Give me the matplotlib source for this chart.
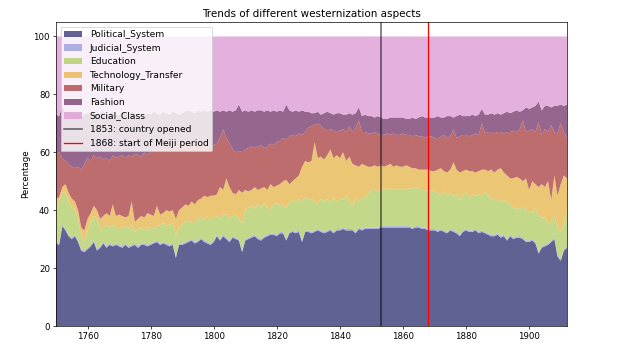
import numpy as np
import matplotlib
matplotlib.use("Agg")
import matplotlib.pyplot as plt

years = list(range(1750, 1913))

labels = ["Political_System", "Judicial_System", "Education", "Technology_Transfer",
          "Military", "Fashion", "Social_Class"]

political_system = [
    28.5, 28, 34.5, 33, 31, 30, 31, 29, 26, 25.5,
    26.5, 27.5, 29, 26, 27, 28.5, 27, 28, 27.5, 28,
    27.5, 27, 28, 27, 27.5, 28, 27, 28, 28, 27.5,
    28, 28.5, 29, 28, 28.5, 28, 27.5, 28, 23.5, 28,
    28, 28.5, 29, 29.5, 28.5, 29, 30, 29, 28.5, 28,
    29, 31, 29.5, 31, 30, 29, 30.5, 30, 29.5, 25.5,
    29.5, 30, 30.5, 31, 30, 29.5, 30.5, 31, 31.5, 31.5,
    31, 32, 32, 29.5, 32, 32.5, 32, 32.5, 29, 32.5,
    32.5, 32, 32.5, 33, 32.5, 32, 32.5, 33, 32, 33,
    33, 33.5, 33, 33, 33, 32, 33.5, 33, 33.5, 33.5,
    33.5, 33.5, 33.5, 34, 34, 34, 34, 34, 34, 34,
    34, 34, 34, 33.5, 34, 34, 33.5, 33.5, 33, 33,
    33, 32.5, 33, 32.5, 32, 33, 32.5, 32, 31, 32.5,
    33, 32.5, 32.5, 33, 32, 32.5, 32, 31.5, 31, 31,
    31.5, 30.5, 31, 29.5, 31, 30, 30.5, 30.5, 30, 29,
    29, 29.5, 28.5, 25, 27, 27.5, 28, 29, 30, 24,
    22.5, 26, 27]

judicial_system = [
    0.5, 0.5, 0.5, 0.5, 0.5, 0.5, 0.5, 0.5, 0.5, 0.5,
    0.5, 0.5, 0.5, 0.5, 0.5, 0.5, 0.5, 0.5, 0.5, 0.5,
    0.5, 0.5, 0.5, 0.5, 0.5, 0.5, 0.5, 0.5, 0.5, 0.5,
    0.5, 0.5, 0.5, 0.5, 0.5, 0.5, 0.5, 0.5, 0.5, 0.5,
    0.5, 0.5, 0.5, 0.5, 0.5, 0.5, 0.5, 0.5, 0.5, 0.5,
    0.5, 0.5, 0.5, 0.5, 0.5, 0.5, 0.5, 0.5, 0.5, 0.5,
    0.5, 0.5, 0.5, 0.5, 0.5, 0.5, 0.5, 0.5, 0.5, 0.5,
    0.5, 0.5, 0.5, 0.5, 0.5, 0.5, 0.5, 0.5, 0.5, 0.5,
    0.5, 0.5, 0.5, 0.5, 0.5, 0.5, 0.5, 0.5, 0.5, 0.5,
    0.5, 0.5, 0.5, 0.5, 0.5, 0.5, 0.5, 0.5, 0.5, 0.5,
    0.5, 0.5, 0.5, 0.5, 0.5, 0.5, 0.5, 0.5, 0.5, 0.5,
    0.5, 0.5, 0.5, 0.5, 0.5, 0.5, 0.5, 0.5, 0.5, 0.5,
    0.5, 0.5, 0.5, 0.5, 0.5, 0.5, 0.5, 0.5, 0.5, 0.5,
    0.5, 0.5, 0.5, 0.5, 0.5, 0.5, 0.5, 0.5, 0.5, 0.5,
    0.5, 0.5, 0.5, 0.5, 0.5, 0.5, 0.5, 0.5, 0.5, 0.5,
    0.5, 0.5, 0.5, 0.5, 0.5, 0.5, 0.5, 0.5, 0.5, 0.5,
    0.5, 0.5, 0.5]

education = [
    11, 14.5, 11, 12.5, 11.5, 10.5, 8.5, 7.5, 4.5, 3,
    6, 8, 8.5, 10.5, 6, 5, 7.5, 5.5, 7, 5.5,
    5.5, 6.5, 6, 6, 7, 4, 6, 5.5, 4.5, 6,
    5.5, 4.5, 5, 6.5, 6.5, 6, 7, 7, 7.5, 5.5,
    6.5, 7, 7, 5.5, 7, 7.5, 7, 7, 9, 8,
    8, 6.5, 7, 7, 8, 7.5, 7, 8, 7, 9.5,
    10, 10.5, 10.5, 9, 11.5, 11, 11.5, 9.5, 8, 10,
    11, 9, 9.5, 10.5, 10.5, 10.5, 10, 11, 13.5, 11.5,
    10.5, 11.5, 10, 8.5, 11, 10.5, 11, 9, 12, 9.5,
    10.5, 9.5, 11.5, 9.5, 7.5, 12, 9, 10.5, 10.5, 12,
    13, 13, 12.5, 12.5, 13, 12.5, 13, 12.5, 13, 12.5,
    13, 12.5, 13, 13.5, 13.5, 13, 13, 13, 13, 13.5,
    13, 13, 11.5, 13.5, 12.5, 12.5, 11.5, 13.5, 12, 12.5,
    12.5, 11, 12.5, 11.5, 13, 12, 14, 13, 12.5, 12,
    11.5, 12, 12, 13, 10.5, 10.5, 9.5, 9.5, 10.5, 10.5,
    10, 9, 12, 12.5, 10, 9.5, 6.5, 7, 7.5, 9.5,
    9.5, 8.5, 12]

technology_transfer = [
    4, 1.5, 2, 3, 3, 3, 3, 3, 3, 4,
    4, 3, 3.5, 3, 3.5, 4, 4, 4, 7, 4,
    5, 4, 3, 4.5, 8, 3.5, 3.5, 4, 4.5, 5,
    4.5, 4.5, 7, 3.5, 3.5, 5.5, 4.5, 4.5, 5.5, 6,
    6, 6, 5, 7.5, 6, 6.5, 6.5, 8.5, 6.5, 8.5,
    7.5, 7.5, 11, 8.5, 12.5, 11, 8, 7, 10, 10.5,
    7, 5.5, 5.5, 7.5, 5, 6.5, 5.5, 6, 9, 6,
    6, 7.5, 8, 10, 6, 6.5, 8.5, 8, 12, 12.5,
    13, 13, 20.5, 16, 14.5, 14.5, 15, 18.5, 13.5, 16,
    14, 16.5, 12, 15.5, 15, 11, 12, 12, 11, 9,
    8, 8.5, 8.5, 8.5, 7.5, 8.5, 8.5, 8, 8, 8,
    7.5, 8.5, 7.5, 7, 6.5, 6.5, 7, 7, 7.5, 6.5,
    7, 8, 9.5, 7, 8, 8, 12, 8, 9.5, 8,
    8, 9.5, 8, 8, 8, 9, 7.5, 8.5, 10, 9.5,
    10.5, 11.5, 9.5, 9, 9, 10, 11, 10.5, 9, 11,
    7.5, 11, 8, 10, 11.5, 10.5, 15, 7, 14, 11,
    16.5, 17, 11.5]

military = [
    15.5, 15.5, 10, 8, 10, 11, 11.5, 15, 20, 23,
    21, 18, 17.5, 18, 21.5, 19.5, 19, 19, 17, 20,
    20, 21, 20.5, 21, 15.5, 23.5, 22, 20.5, 22.5, 20,
    22, 23, 19, 23, 23, 21.5, 22.5, 21, 25.5, 22,
    22, 20.5, 21.5, 21, 21, 19, 19.5, 18, 19.5, 17,
    17.5, 17.5, 17, 21, 14, 15, 15, 14.5, 13.5, 14,
    14, 15, 15, 13.5, 15, 15, 13.5, 15, 14, 14.5,
    15, 15, 15, 14, 16.5, 16, 14.5, 14.5, 11, 10,
    12, 12, 6, 12, 10.5, 10.5, 8.5, 7, 9.5, 8,
    9.5, 8, 10, 10.5, 11, 13, 16, 11, 11.5, 11.5,
    11.5, 11.5, 11.5, 10.5, 11, 11, 10, 11.5, 10.5, 11,
    11.5, 10.5, 11, 11, 11.5, 11.5, 11.5, 11, 11.5, 12,
    11.5, 10.5, 11, 12.5, 12, 11.5, 11.5, 11, 12.5, 12.5,
    12, 12, 12.5, 13.5, 12.5, 16, 12.5, 13.5, 13, 13.5,
    13, 12.5, 13.5, 15, 16, 16.5, 15.5, 17, 21, 16,
    20.5, 18, 18, 22.5, 17, 20, 17, 26, 15, 21.5,
    21, 15, 14]

fashion = [
    13.5, 12.5, 18, 17, 17.5, 19, 18.5, 18.5, 18.5, 17,
    15.5, 16, 15, 15, 15, 17, 15, 16.5, 15, 15,
    14.5, 15, 15.5, 14, 15.5, 14, 14, 15, 12.5, 14.5,
    12.5, 13, 13, 11.5, 12, 12, 11, 13, 11, 11,
    10.5, 11.5, 11.5, 10, 10.5, 12, 10.5, 11.5, 10, 12.5,
    11.5, 11.5, 9, 6.5, 9, 11.5, 13, 14.5, 16, 14,
    13.5, 12.5, 12.5, 12.5, 12.5, 12, 12.5, 12.5, 11, 12,
    10.5, 10.5, 9, 12, 9, 8, 9, 7.5, 8.5, 7,
    5.5, 4.5, 4, 4, 4, 5.5, 6.5, 5.5, 5.5, 6.5,
    6, 5, 6, 4.5, 6, 5, 4.5, 5.5, 6, 6,
    6, 5, 6, 6, 5.5, 5, 6, 5.5, 6, 6,
    5.5, 5.5, 5.5, 6.5, 5.5, 6.5, 7, 7, 6.5, 6.5,
    7, 8, 6.5, 6, 7.5, 7, 4, 7.5, 7.5, 6.5,
    6.5, 7, 7, 6, 7, 5, 6.5, 6, 6.5, 6.5,
    6.5, 6, 7, 7, 6.5, 6.5, 7.5, 6, 3.5, 8.5,
    7.5, 7.5, 9, 7, 8.5, 8, 9, 6, 9, 9.5,
    6.5, 9, 11.5]

social_class = [
    27, 27.5, 24, 26, 26.5, 26, 27, 26.5, 27.5, 27,
    26.5, 27, 26, 27, 26.5, 25.5, 27, 26.5, 26, 27,
    27, 26, 26.5, 27, 26, 26.5, 27, 26.5, 27.5, 26.5,
    27, 26, 26.5, 27, 26, 26.5, 27, 26, 26.5, 27,
    26.5, 26, 25.5, 26, 26.5, 25.5, 26, 25.5, 26, 25.5,
    26, 25.5, 26, 25.5, 26, 25.5, 26, 25.5, 23.5, 26,
    25.5, 26, 25.5, 26, 25.5, 25.5, 26, 25.5, 26, 25.5,
    26, 25.5, 26, 23.5, 25.5, 26, 25.5, 26, 25.5, 26,
    26, 26.5, 26.5, 26, 27, 26.5, 26, 26.5, 27, 26.5,
    26.5, 27, 27, 26.5, 27, 26.5, 24.5, 27.5, 27, 27.5,
    27.5, 28, 27.5, 28, 28.5, 28.5, 28, 28, 28, 28,
    28, 28.5, 28.5, 28, 28.5, 28, 27.5, 28, 28, 28,
    28, 27.5, 28, 28, 27.5, 27.5, 28, 27.5, 27, 27.5,
    27.5, 27.5, 27, 27.5, 27, 25, 27, 27, 26.5, 27,
    26.5, 27, 26.5, 26, 26.5, 26, 25.5, 26, 25.5, 24.5,
    25, 24.5, 24, 22.5, 25.5, 24, 24, 24.5, 24, 24,
    23.5, 24, 23.5]

events = [1853, 1868]
event_labels = ["1853: country opened", "1868: start of Meiji period"]

series = [political_system, judicial_system, education, technology_transfer,
          military, fashion, social_class]
for s in series:
    assert len(s) == len(years), len(s)

colors = plt.cm.tab20b(np.linspace(0, 1, 7))

fig = plt.figure(figsize=(10, 345 / 62), dpi=62)
ax = fig.add_axes([56 / 620, 1 - 326 / 345, (567 - 56) / 620, (326 - 22) / 345])

ax.stackplot(years, *series, labels=labels, colors=colors, alpha=0.8)
ax.axvline(events[0], color="black", alpha=0.6, linewidth=1.8, label=event_labels[0])
ax.axvline(events[1], color="red", linewidth=1.5, label=event_labels[1])

ax.set_xlim(1750, 1912)
ax.set_ylim(0, 105)
ax.set_title("Trends of different westernization aspects")
ax.set_ylabel("Percentage")
ax.legend(loc="upper left", fontsize=10.6)

fig.savefig("out.png", dpi=62)
